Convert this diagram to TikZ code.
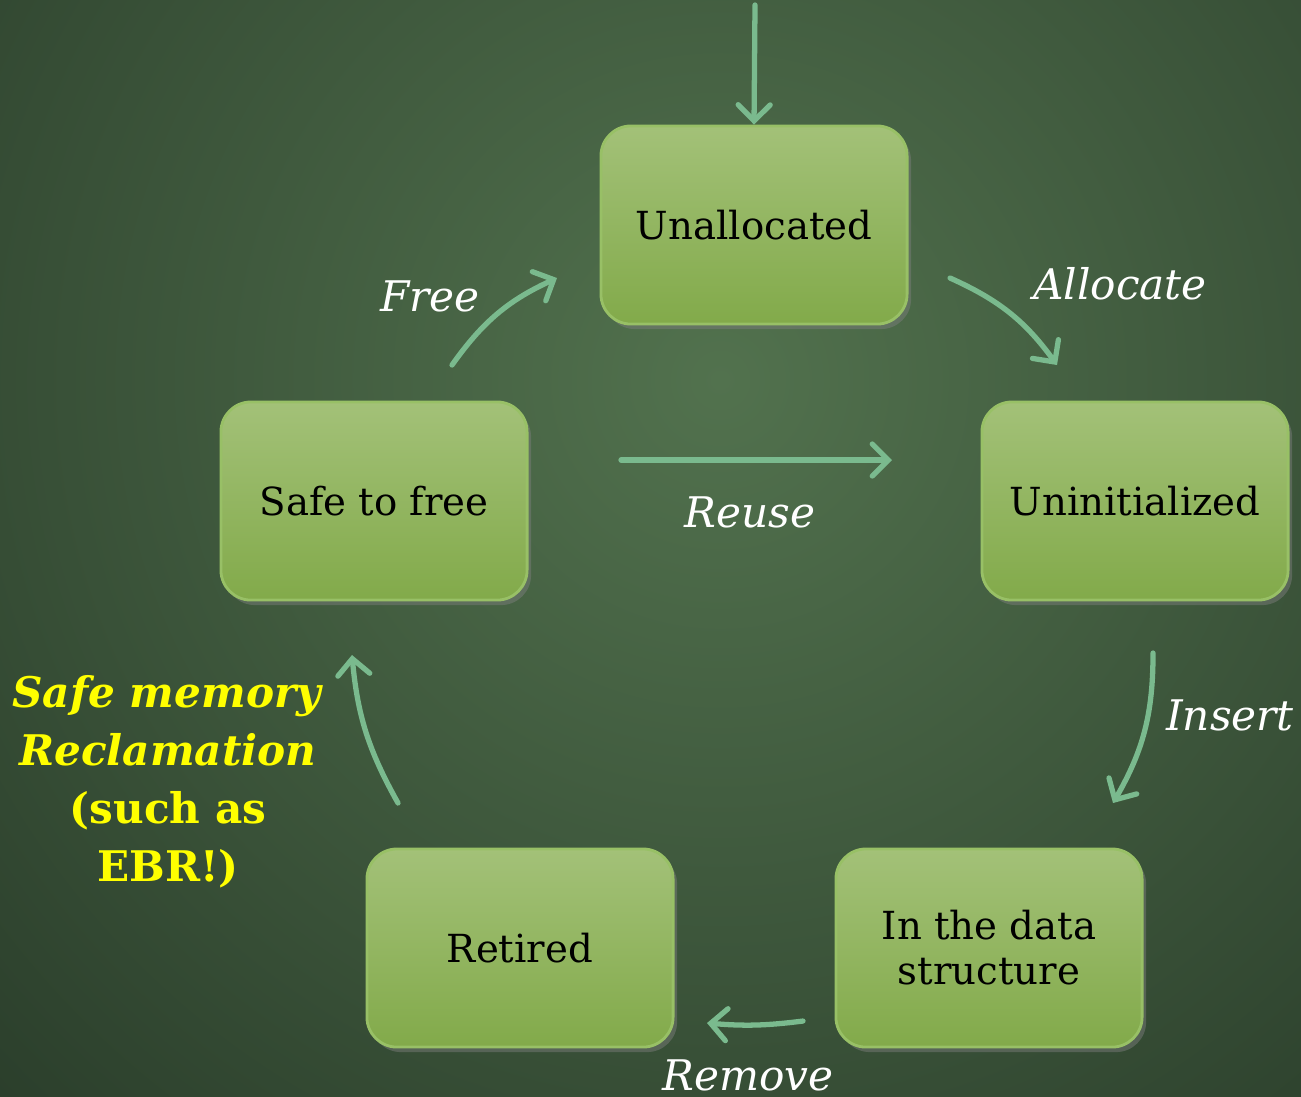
\documentclass[tikz,border=0pt]{standalone}
\usepackage{fontspec}
\setmainfont{DejaVu Serif}
\usetikzlibrary{arrows.meta}
\usetikzlibrary{shadows}
\usetikzlibrary{positioning}

\definecolor{bgin}{RGB}{82,114,78}
\definecolor{bgout}{RGB}{38,56,39}
\definecolor{boxtop}{RGB}{163,193,120}
\definecolor{boxbot}{RGB}{130,170,74}
\definecolor{boxrim}{RGB}{152,192,102}
\definecolor{arrcol}{RGB}{122,186,142}
\definecolor{ebr}{RGB}{255,255,0}

\tikzset{
  statebox/.style={rounded corners=0.3cm, minimum width=3.06cm, minimum height=1.98cm,
    top color=boxtop, bottom color=boxbot, draw=boxrim, line width=0.8pt,
    align=center, font=\fontsize{11}{12.8}\selectfont,
    drop shadow={opacity=0.45, shadow xshift=0.04cm, shadow yshift=-0.05cm}},
  trans/.style={draw=arrcol, line width=1.5pt, line cap=round,
    -{Straight Barb[length=0.16cm, width=0.32cm, line cap=round]}},
  lbl/.style={text=white, font=\itshape\fontsize{12}{14}\selectfont},
}

\begin{document}
\begin{tikzpicture}[x=0.01cm, y=-0.01cm]
\useasboundingbox (0,0) rectangle (1301,1096);
\clip (0,0) rectangle (1301,1096);

% background
\fill[bgout] (-10,-10) rectangle (1311,1106);
\fill[inner color=bgin, outer color=bgout] (720,380) circle (11.5cm);

% states
\node[statebox] (unalloc) at (754,225) {Unallocated};
\node[statebox] (uninit) at (1135,501) {Uninitialized};
\node[statebox] (inds) at (989,948) {In the data\\structure};
\node[statebox] (retired) at (520,948) {Retired};
\node[statebox] (safe) at (374,501) {Safe to free};

% arrow ends
\coordinate (s0) at (755,5);
\coordinate (a1) at (950,278);
\coordinate (a2) at (1057,365);
\coordinate (i1) at (1153,653);
\coordinate (i2) at (1113,803);
\coordinate (r1) at (803,1021);
\coordinate (r2) at (707,1023);
\coordinate (m1) at (398,803);
\coordinate (m2) at (352,655);
\coordinate (f1) at (452,365);
\coordinate (f2) at (557,278);
\coordinate (u1) at (621,460);
\coordinate (u2) at (892,460);

\draw[trans] (s0) -- (unalloc.north);
\draw[trans] (a1) to[bend left=15] (a2);
\draw[trans] (i1) to[bend left=15] (i2);
\draw[trans] (r1) to[bend left=6] (r2);
\draw[trans] (m1) to[bend left=12] (m2);
\draw[trans] (f1) to[bend left=15] (f2);
\draw[trans] (u1) -- (u2);

% labels
\node[lbl] (lalloc) at (1120,284) {Allocate};
\node[lbl] (linsert) at (1230,715) {Insert};
\node[lbl] (lremove) at (748,1075) {Remove};
\node[lbl] (lfree) at (430,296) {Free};
\node[lbl] (lreuse) at (750,512) {Reuse};

\node[text=ebr, align=center, font=\bfseries\fontsize{12}{16.5}\selectfont] (smr) at (168,782)
  {\textit{Safe memory}\\\textit{Reclamation}\\(such as\\EBR!)};

\end{tikzpicture}
\end{document}
